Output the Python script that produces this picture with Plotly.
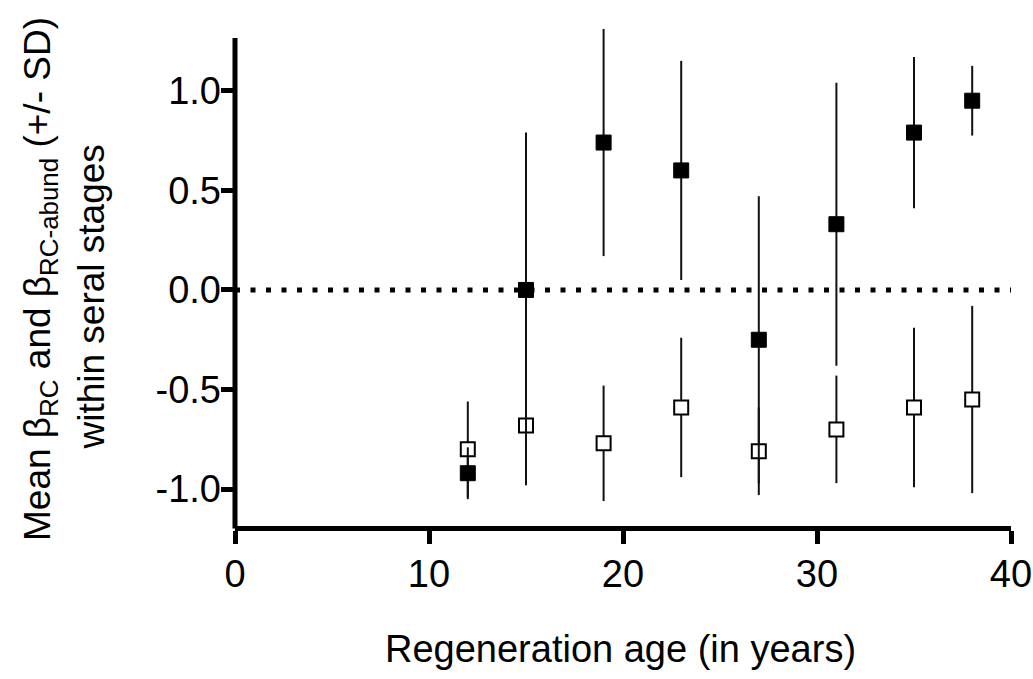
import plotly.graph_objects as go

# ---- data ----
age = [12, 15, 19, 23, 27, 31, 35, 38]
beta_rc = [-0.92, 0.00, 0.74, 0.60, -0.25, 0.33, 0.79, 0.95]
sd_rc = [0.13, 0.79, 0.57, 0.55, 0.72, 0.71, 0.38, 0.175]
beta_rc_abund = [-0.80, -0.68, -0.77, -0.59, -0.81, -0.70, -0.59, -0.55]
sd_rc_abund = [0.24, 0.30, 0.29, 0.35, 0.22, 0.27, 0.40, 0.47]

x_ticks = [0, 10, 20, 30, 40]
y_ticks = [-1.0, -0.5, 0.0, 0.5, 1.0]
y_tick_text = ["-1.0", "-0.5", "0.0", "0.5", "1.0"]

X_RANGE = [0, 40]
Y_RANGE = [-1.185, 1.32]

FONT = "Arial, Liberation Sans, sans-serif"

fig = go.Figure()

# open squares (drawn first so the filled series' bars pass over them)
fig.add_trace(go.Scatter(
    x=age, y=beta_rc_abund, mode="markers", name="βRC-abund",
    marker=dict(symbol="square", size=14, color="white",
                line=dict(color="black", width=2)),
    error_y=dict(type="data", array=sd_rc_abund, visible=True,
                 thickness=2, width=0, color="#111111"),
    showlegend=False,
))

# filled squares
fig.add_trace(go.Scatter(
    x=age, y=beta_rc, mode="markers", name="βRC",
    marker=dict(symbol="square", size=15, color="black",
                line=dict(color="black", width=1)),
    error_y=dict(type="data", array=sd_rc, visible=True,
                 thickness=2, width=0, color="#111111"),
    showlegend=False,
))

# invisible copy on the overlaid label-only axes (so those axes get drawn)
fig.add_trace(go.Scatter(
    x=age, y=beta_rc, xaxis="x2", yaxis="y2", mode="markers",
    marker=dict(opacity=0), hoverinfo="skip", showlegend=False,
))

# dotted zero line
fig.add_shape(type="line", xref="x", yref="y", x0=0, x1=40, y0=0, y1=0,
              line=dict(color="black", width=5, dash="5px,10.5px"), layer="below")

# y axis line (stops a little below the top of the plotting area)
fig.add_shape(type="line", xref="paper", yref="paper", x0=0, x1=0, y0=-0.005, y1=0.978,
              line=dict(color="black", width=5))

common_tick = dict(tickcolor="black", showgrid=False, zeroline=False, automargin=False)

fig.update_layout(
    width=1033, height=679,
    margin=dict(l=235, r=22, t=27, b=153, autoexpand=False),
    paper_bgcolor="white", plot_bgcolor="white",
    font=dict(family=FONT, color="black"),
    # main axes: line + tick marks only
    xaxis=dict(range=X_RANGE, tickvals=x_ticks, ticks="outside", ticklen=13, tickwidth=5,
               showline=True, linewidth=5, linecolor="black", showticklabels=False,
               **common_tick),
    yaxis=dict(range=Y_RANGE, tickvals=y_ticks, ticks="outside", ticklen=13, tickwidth=5,
               showline=False, showticklabels=False, **common_tick),
    # label-only axes, overlaid, so the labels can sit at the reference's distance
    xaxis2=dict(range=X_RANGE, tickvals=x_ticks, overlaying="x", anchor="y", side="bottom",
                ticks="", showline=False, tickfont=dict(size=38, family=FONT),
                ticklabelstandoff=22, **common_tick),
    yaxis2=dict(range=Y_RANGE, tickvals=y_ticks, ticktext=y_tick_text, overlaying="y",
                anchor="x", side="left", ticks="", showline=False,
                tickfont=dict(size=38, family=FONT), ticklabelstandoff=13, **common_tick),
    annotations=[
        dict(text="Regeneration age (in years)", xref="paper", yref="paper",
             x=0.497, y=-0.247, xanchor="center", yanchor="middle", showarrow=False,
             font=dict(size=38, family=FONT)),
        dict(text="Mean β<sub>RC</sub> and β<sub>RC-abund</sub> (+/- SD)",
             xref="paper", yref="paper", x=-0.2513, y=0.495, xanchor="center",
             yanchor="middle", textangle=-90, showarrow=False,
             font=dict(size=37, family=FONT)),
        dict(text="within seral stages",
             xref="paper", yref="paper", x=-0.1855, y=0.458, xanchor="center",
             yanchor="middle", textangle=-90, showarrow=False,
             font=dict(size=37, family=FONT)),
    ],
)

fig.write_html("out.html")
